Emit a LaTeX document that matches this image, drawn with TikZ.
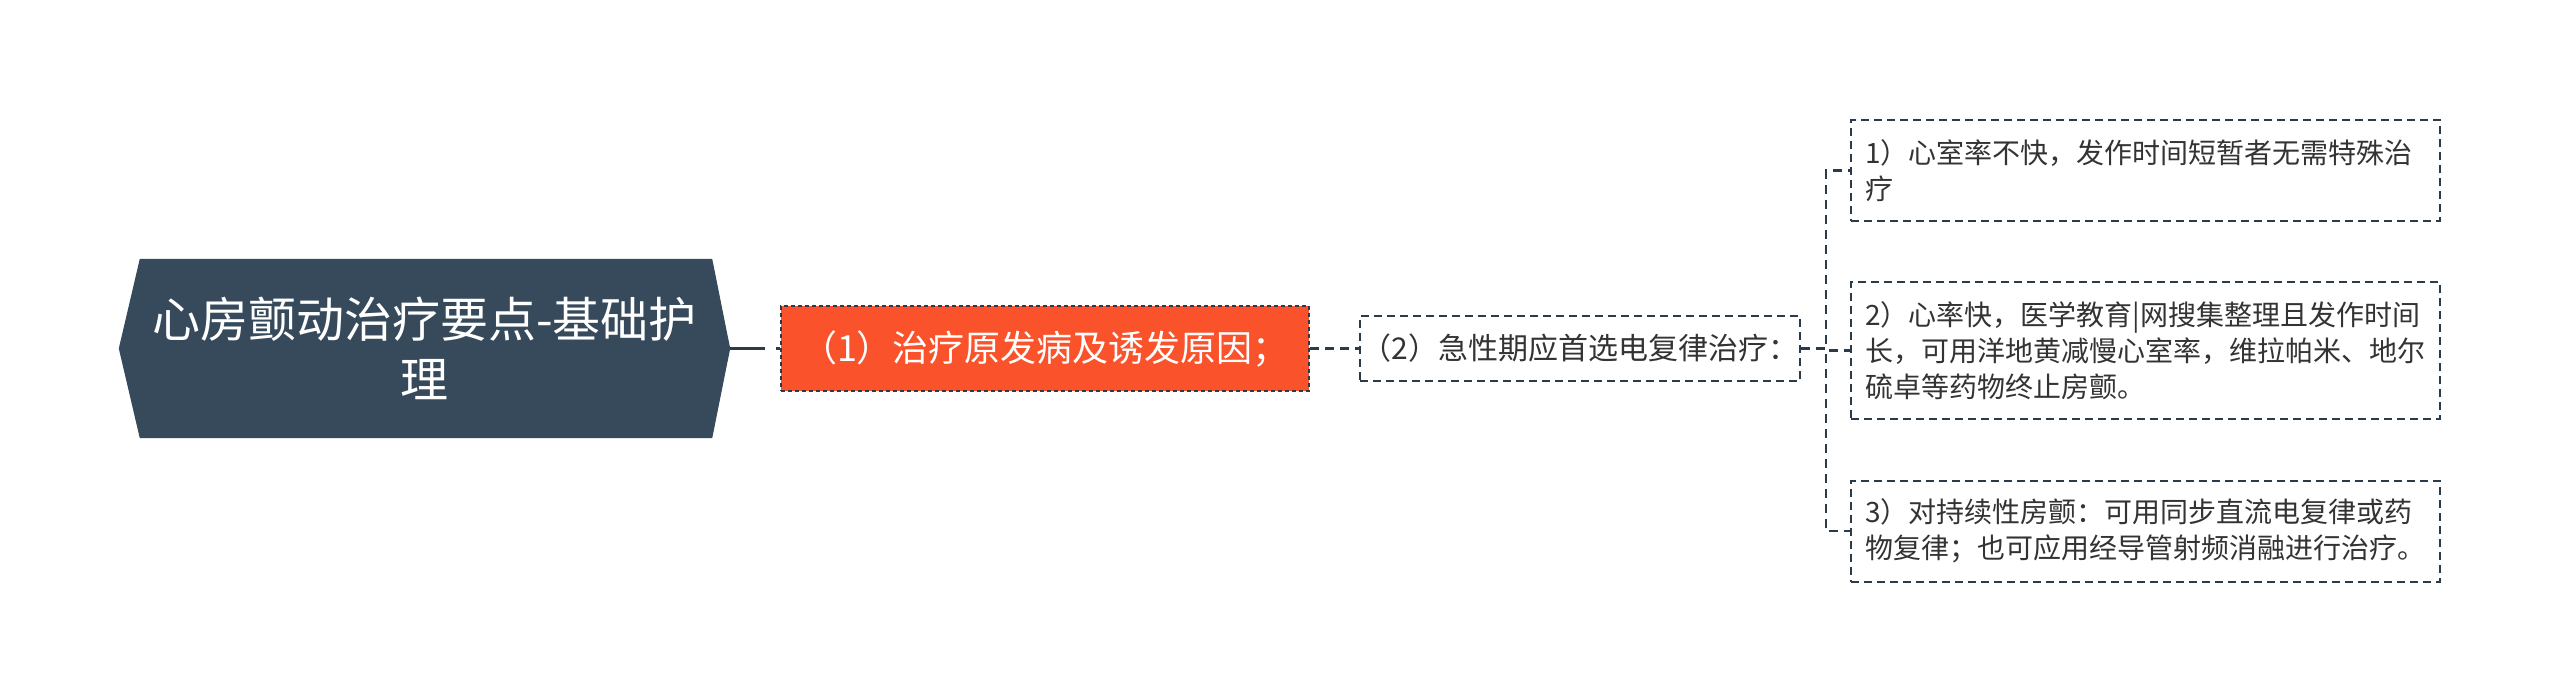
\documentclass[tikz,border=0pt]{standalone}
\usepackage{fontspec}
\newfontfamily\cjk{Noto Sans CJK SC}
\usepackage{xcolor}
\usetikzlibrary{backgrounds}
\definecolor{rootgray}{HTML}{364A5B}
\definecolor{linegray}{HTML}{2C3B49}
\definecolor{mainred}{RGB}{250,82,42}
\definecolor{textgray}{HTML}{333333}

\begin{document}
\begin{tikzpicture}[x=1pt, y=-1pt,
  title/.style={minimum width=611pt, minimum height=179pt, inner sep=0pt, align=center, text=white, font=\cjk\fontsize{48}{60}\selectfont},
  first/.style={fill=mainred, draw=linegray, line width=2pt, dash pattern=on 4pt off 3pt, minimum width=528pt, minimum height=85pt, inner sep=0pt, text=white, font=\cjk\fontsize{36}{44}\selectfont},
  second/.style={draw=linegray, line width=2pt, dash pattern=on 8pt off 5pt, minimum width=440pt, minimum height=65pt, inner sep=0pt, text=textgray, font=\cjk\fontsize{30}{38}\selectfont},
  leaf/.style={draw=linegray, line width=2pt, dash pattern=on 8pt off 5pt, text width=561pt, inner xsep=14pt, inner ysep=0pt, minimum height=101pt, align=left, text=textgray, font=\cjk\fontsize{28}{36}\selectfont},
  link/.style={draw=linegray, line width=2.2pt, dash pattern=on 9pt off 6pt}]
\useasboundingbox (0,0) rectangle (2560,698);

% title node
\node[title] (T) at (424.5,348.5) {心房颤动治疗要点-基础护\\理};

% first level
\node[first] (A1) at (1045,348.5) {（1）治疗原发病及诱发原因；};

% second level
\node[second] (B1) at (1580,348.5) {（2）急性期应首选电复律治疗：};

% leaves
\node[leaf] (C1) at (2145.5,170.5) {1）心室率不快，发作时间短暂者无需特殊治\\疗};
\node[leaf, minimum height=137pt] (C2) at (2145.5,350.5) {2）心率快，医学教育|网搜集整理且发作时间\\长，可用洋地黄减慢心室率，维拉帕米、地尔\\硫卓等药物终止房颤。};
\node[leaf] (C3) at (2145.5,531) {3）对持续性房颤：可用同步直流电复律或药\\物复律；也可应用经导管射频消融进行治疗。};

% links
\draw[link, line width=3pt, dash pattern=on 35pt off 11pt] (T.east) -- (A1.west);
\draw[link] (A1.east) -- (B1.west);
\draw[link] (B1.east) -- ++(25,0) |- (C1.west);
\draw[link] (B1.east) -- ++(25,0) |- (C2.west);
\draw[link] (B1.east) -- ++(25,0) |- (C3.west);

% title shape
\begin{scope}[on background layer]
\fill[white] (0,0) rectangle (2560,698);
\fill[rootgray] ([xshift=21pt]T.north west) -- ([xshift=-18pt]T.north east) -- (T.east)
  -- ([xshift=-18pt]T.south east) -- ([xshift=21pt]T.south west) -- (T.west) -- cycle;
\end{scope}
\end{tikzpicture}
\end{document}
